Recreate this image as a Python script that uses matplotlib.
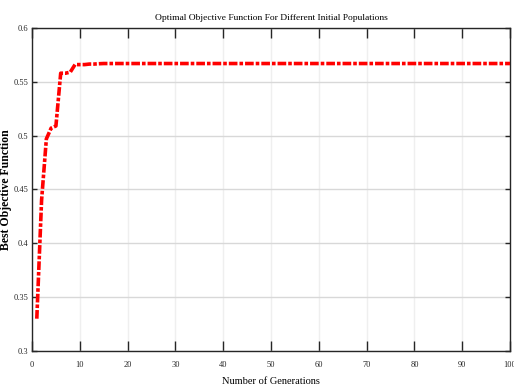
import numpy as np
import matplotlib
matplotlib.use("Agg")
import matplotlib.pyplot as plt

# best objective per generation
generations = np.arange(1, 101)
best_start = [0.330, 0.440, 0.497, 0.507, 0.509, 0.558, 0.558, 0.559,
              0.566, 0.566, 0.566, 0.5665, 0.5665, 0.5668, 0.567]
best_obj = np.array(best_start + [0.567] * (100 - len(best_start)))

xticks = np.arange(0, 101, 10)
yticks = [0.3, 0.35, 0.4, 0.45, 0.5, 0.55, 0.6]
ytick_labels = ["0.3", "0.35", "0.4", "0.45", "0.5", "0.55", "0.6"]

serif = ["Liberation Serif", "DejaVu Serif"]

fig = plt.figure(figsize=(5.14, 3.92), dpi=100)
ax = fig.add_axes([0.0623, 0.1046, 0.9299, 0.824])

ax.plot(generations, best_obj, color="red", lw=2.6,
        linestyle=(0, (2.4, 0.55, 1.0, 0.55)), zorder=3)

ax.set_xlim(0, 100)
ax.set_ylim(0.3, 0.6)
ax.set_xticks(xticks)
ax.set_yticks(yticks)
ax.set_xticklabels([str(t) for t in xticks], family=serif, fontsize=6)
ax.set_yticklabels(ytick_labels, family=serif, fontsize=6)

ax.tick_params(axis="x", direction="in", length=7, width=1, top=True,
               pad=7, colors="#262626")
ax.tick_params(axis="y", direction="in", length=3.5, width=1, right=True,
               pad=2.5, colors="#262626")

for sp in ax.spines.values():
    sp.set_color("#262626")
    sp.set_linewidth(1)

ax.yaxis.grid(True, color="#d8d8d8", lw=1)
ax.xaxis.grid(True, color="#efefef", lw=1)
ax.set_axisbelow(True)

ax.set_title("Optimal Objective Function For Different Initial Populations",
             family=serif, fontsize=6.8, pad=6)
ax.set_xlabel("Number of Generations", family=serif, fontsize=7.5, labelpad=6)
ax.set_ylabel("Best Objective Function", family=serif,
              fontsize=8.5, fontweight="bold")
ax.yaxis.set_label_coords(-0.041, 0.5)

fig.savefig("out.png", dpi=100)
